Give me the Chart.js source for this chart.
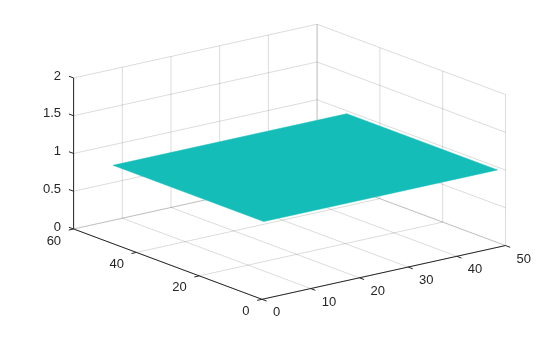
<!DOCTYPE html>
<html>
<head>
<meta charset="utf-8">
<script src="https://cdn.jsdelivr.net/npm/chart.js@4/dist/chart.umd.min.js"></script>
<style>
  html, body { margin: 0; padding: 0; background: #fff; }
  #wrap { width: 560px; height: 337px; }
</style>
</head>
<body>
<div id="wrap"><canvas id="chart-surf" width="560" height="337"></canvas></div>
<script>
/*  ╔══════════════════════════════════════════════════════════════╗
    ║                            DATA                              ║   */
const xTicks = [0, 10, 20, 30, 40, 50];
const yTicks = [0, 20, 40, 60];
const zTicks = [0, 0.5, 1, 1.5, 2];
const xTickLabels = ["0", "10", "20", "30", "40", "50"];
const yTickLabels = ["0", "20", "40", "60"];
const zTickLabels = ["0", "0.5", "1", "1.5", "2"];
// поверхность: сетка x, y и значения z (плоскость z = 1)
const surfX = [1, 49];
const surfY = [1, 49];
const surfZ = [
  [1, 1],
  [1, 1],
];
/*  ╚══════════════════════════════════════════════════════════════╝  */

const xLim = [xTicks[0], xTicks[xTicks.length - 1]];
const yLim = [yTicks[0], yTicks[yTicks.length - 1]];
const zLim = [zTicks[0], zTicks[zTicks.length - 1]];

// ортогональная проекция (вид az -37.5, el 30), в координатах холста
const view = {
  ox: 262, oy: 299.3,
  ex: [4.87, -1.075],
  ey: [-3.14, -1.172],
  ez: [0, -75.5],
};
function proj(x, y, z) {
  return {
    x: view.ox + x * view.ex[0] + y * view.ey[0] + z * view.ez[0],
    y: view.oy + x * view.ex[1] + y * view.ey[1] + z * view.ez[1],
  };
}

const GRID = "rgba(38, 38, 38, 0.16)";
const AXIS = "#262626";
const SURF = "#14bdb8";
const TICK_LEN = 5; // длина засечек, px

const datasets = [];
function addLine(points, color, order) {
  datasets.push({
    data: points,
    showLine: true,
    borderColor: color,
    borderWidth: 1,
    pointRadius: 0,
    fill: false,
    order: order,
  });
}
const seg = (a, b) => [proj(...a), proj(...b)];

// сетка: пол и две задние стенки
xTicks.forEach((v) => {
  addLine(seg([v, yLim[0], zLim[0]], [v, yLim[1], zLim[0]]), GRID, 3);
  addLine(seg([v, yLim[1], zLim[0]], [v, yLim[1], zLim[1]]), GRID, 3);
});
yTicks.forEach((v) => {
  addLine(seg([xLim[0], v, zLim[0]], [xLim[1], v, zLim[0]]), GRID, 3);
  addLine(seg([xLim[1], v, zLim[0]], [xLim[1], v, zLim[1]]), GRID, 3);
});
zTicks.forEach((v) => {
  addLine(seg([xLim[0], yLim[1], v], [xLim[1], yLim[1], v]), GRID, 3);
  addLine(seg([xLim[1], yLim[0], v], [xLim[1], yLim[1], v]), GRID, 3);
});

// оси
addLine(seg([xLim[0], yLim[0], zLim[0]], [xLim[1], yLim[0], zLim[0]]), AXIS, 2);
addLine(seg([xLim[0], yLim[0], zLim[0]], [xLim[0], yLim[1], zLim[0]]), AXIS, 2);
addLine(seg([xLim[0], yLim[1], zLim[0]], [xLim[0], yLim[1], zLim[1]]), AXIS, 2);

// засечки: направление вдоль соседней оси
function unit(v) {
  const l = Math.hypot(v[0], v[1]);
  return [v[0] / l, v[1] / l];
}
function addTick(p, dir) {
  const u = unit(dir);
  addLine([p, { x: p.x + u[0] * TICK_LEN, y: p.y + u[1] * TICK_LEN }], AXIS, 2);
}
xTicks.forEach((v) => addTick(proj(v, yLim[0], zLim[0]), [-view.ey[0], -view.ey[1]]));
yTicks.forEach((v) => addTick(proj(xLim[0], v, zLim[0]), [-view.ex[0], -view.ex[1]]));
zTicks.forEach((v) => addTick(proj(xLim[0], yLim[1], v), [view.ey[0], view.ey[1]]));

// поверхность (контур ячеек сетки)
const surfPts = [
  proj(surfX[0], surfY[0], surfZ[0][0]),
  proj(surfX[1], surfY[0], surfZ[0][1]),
  proj(surfX[1], surfY[1], surfZ[1][1]),
  proj(surfX[0], surfY[1], surfZ[1][0]),
];
surfPts.push(surfPts[0]);
datasets.push({
  data: surfPts,
  showLine: true,
  borderColor: SURF,
  backgroundColor: SURF,
  borderWidth: 0.5,
  pointRadius: 0,
  fill: "shape",
  order: 0,
});

const tickLabelsPlugin = {
  id: "tickLabels",
  afterDatasetsDraw(chart) {
    const { ctx, scales } = chart;
    const px = (p) => ({ x: scales.x.getPixelForValue(p.x), y: scales.y.getPixelForValue(p.y) });
    ctx.save();
    ctx.font = '13px "Liberation Sans", Helvetica, Arial, sans-serif';
    ctx.fillStyle = AXIS;
    ctx.textBaseline = "middle";

    ctx.textAlign = "left";
    xTicks.forEach((v, i) => {
      const p = px(proj(v, yLim[0], zLim[0]));
      ctx.fillText(xTickLabels[i], p.x + 11, p.y + 13.5);
    });

    ctx.textAlign = "right";
    yTicks.forEach((v, i) => {
      const p = px(proj(xLim[0], v, zLim[0]));
      ctx.fillText(yTickLabels[i], p.x - 12.5, p.y + 12);
    });
    zTicks.forEach((v, i) => {
      const p = px(proj(xLim[0], yLim[1], v));
      ctx.fillText(zTickLabels[i], p.x - 12.5, p.y - 2);
    });
    ctx.restore();
  },
};

new Chart(document.getElementById("chart-surf"), {
  type: "scatter",
  data: { datasets: datasets },
  options: {
    responsive: false,
    animation: false,
    layout: { padding: 0 },
    plugins: {
      legend: { display: false },
      tooltip: { enabled: false },
    },
    scales: {
      x: { type: "linear", min: 0, max: 560, display: false },
      y: { type: "linear", min: 0, max: 337, reverse: true, display: false },
    },
  },
  plugins: [tickLabelsPlugin],
});
</script>
</body>
</html>
